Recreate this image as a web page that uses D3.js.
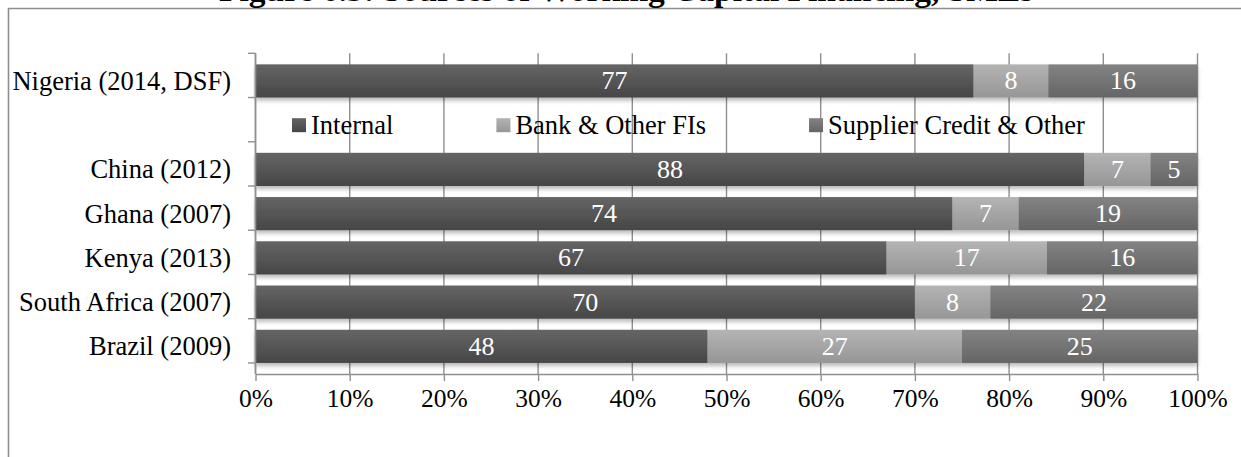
<!DOCTYPE html>
<html>
<head>
<meta charset="utf-8">
<script src="https://cdn.jsdelivr.net/npm/d3@7"></script>
<style>
  html, body { margin: 0; padding: 0; background: #fff; }
  svg { display: block; }
  text { font-family: "Liberation Serif", "Times New Roman", serif; }
</style>
</head>
<body>
<svg id="chart" width="1241" height="457"></svg>
<script>
// Sources of working capital financing (% of SMEs), by country and survey
const categories = ["Nigeria (2014, DSF)", "", "China (2012)", "Ghana (2007)", "Kenya (2013)", "South Africa (2007)", "Brazil (2009)"];
const seriesNames = ["Internal", "Bank & Other FIs", "Supplier Credit & Other"];
const internal = [77, null, 88, 74, 67, 70, 48];
const bankOther = [8, null, 7, 7, 17, 8, 27];
const supplierOther = [16, null, 5, 19, 16, 22, 25];
const tickLabels = ["0%", "10%", "20%", "30%", "40%", "50%", "60%", "70%", "80%", "90%", "100%"];
const title = "Figure 6.3: Sources of Working Capital Financing, SMEs";

const series = [internal, bankOther, supplierOther];
const gradients = [
  { id: "g-internal", top: "#656565", bottom: "#464646" },
  { id: "g-bank", top: "#b4b4b4", bottom: "#969696" },
  { id: "g-supplier", top: "#838383", bottom: "#656565" }
];

const svg = d3.select("#chart");
const defs = svg.append("defs");
gradients.forEach(g => {
  const lg = defs.append("linearGradient").attr("id", g.id)
    .attr("x1", 0).attr("y1", 0).attr("x2", 0).attr("y2", 1);
  lg.append("stop").attr("offset", "0%").attr("stop-color", g.top);
  lg.append("stop").attr("offset", "100%").attr("stop-color", g.bottom);
});
const shadow = defs.append("filter").attr("id", "bar-shadow")
  .attr("x", "-5%").attr("y", "-20%").attr("width", "110%").attr("height", "160%");
shadow.append("feDropShadow").attr("dx", 0).attr("dy", 3).attr("stdDeviation", 2.2)
  .attr("flood-color", "#000").attr("flood-opacity", 0.28);

// Outer frame
svg.append("path")
  .attr("d", "M8.5,457 L8.5,8.5 L1241,8.5")
  .attr("fill", "none").attr("stroke", "#8e8e8e").attr("stroke-width", 1.6);

// Title (runs off the top edge of the frame)
svg.append("text")
  .attr("x", 219).attr("y", 1)
  .attr("font-size", 33.5).attr("font-weight", "bold").attr("fill", "#000")
  .text(title);

const x = d3.scaleLinear().domain([0, 100]).range([255.5, 1197.5]);
const y = d3.scaleBand().domain(categories.map((c, i) => i)).range([53.3, 374]).padding(0.25);
const slotTop = 53.3, slotBottom = 374;

const axisColor = "#8f8f8f";

// Vertical gridlines
svg.append("g").selectAll("line").data(d3.range(0, 101, 10)).join("line")
  .attr("x1", d => x(d)).attr("x2", d => x(d))
  .attr("y1", slotTop).attr("y2", slotBottom)
  .attr("stroke", axisColor).attr("stroke-width", 1.4);

// Stacked bars, each row normalised to 100%
const rows = categories.map((c, i) => {
  const vals = series.map(s => s[i]);
  if (vals[0] == null) return null;
  const total = d3.sum(vals);
  let acc = 0;
  return vals.map((v, k) => {
    const seg = { row: i, k, v, x0: acc / total * 100, x1: (acc + v) / total * 100 };
    acc += v;
    return seg;
  });
}).filter(r => r);

const barLayer = svg.append("g");
rows.forEach(segs => {
  const g = barLayer.append("g").attr("filter", "url(#bar-shadow)");
  g.selectAll("rect").data(segs).join("rect")
    .attr("x", d => x(d.x0)).attr("width", d => x(d.x1) - x(d.x0))
    .attr("y", d => y(d.row)).attr("height", y.bandwidth())
    .attr("fill", d => `url(#${gradients[d.k].id})`);
});

// Value labels
const labelLayer = svg.append("g");
rows.flat().forEach(d => {
  labelLayer.append("text")
    .attr("x", (x(d.x0) + x(d.x1)) / 2)
    .attr("y", y(d.row) + y.bandwidth() / 2 + 8.5)
    .attr("text-anchor", "middle").attr("font-size", 26).attr("fill", "#fff")
    .text(d.v);
});

// Axes
const xAxis = d3.axisBottom(x).tickValues(d3.range(0, 101, 10))
  .tickFormat((d, i) => tickLabels[i]).tickSize(7).tickSizeOuter(0).tickPadding(10);
const xg = svg.append("g").attr("transform", `translate(0,${slotBottom})`).call(xAxis);
xg.select(".domain").attr("stroke", axisColor).attr("stroke-width", 1.6);
xg.selectAll(".tick line").attr("stroke", axisColor).attr("stroke-width", 1.4);
xg.selectAll(".tick text").attr("font-size", 25.5).attr("fill", "#000")
  .attr("dy", "0.71em").attr("y", 15);

// Category axis: ticks at band boundaries, labels at band centres
const yLine = svg.append("g");
yLine.append("line").attr("x1", 255.5).attr("x2", 255.5).attr("y1", slotTop).attr("y2", slotBottom)
  .attr("stroke", axisColor).attr("stroke-width", 1.6);
const step = y.step();
yLine.selectAll("line.tk").data(d3.range(categories.length + 1)).join("line").attr("class", "tk")
  .attr("x1", 248).attr("x2", 255.5)
  .attr("y1", i => slotTop + i * step).attr("y2", i => slotTop + i * step)
  .attr("stroke", axisColor).attr("stroke-width", 1.4);
svg.append("g").selectAll("text").data(categories).join("text")
  .attr("x", 231).attr("y", (d, i) => y(i) + y.bandwidth() / 2 + 9)
  .attr("text-anchor", "end").attr("font-size", 26.5).attr("fill", "#000")
  .text(d => d);

// Legend in the empty row
const legendY = y(1) + y.bandwidth() / 2;
let lx = 292;
const legend = svg.append("g");
seriesNames.forEach((name, k) => {
  legend.append("rect").attr("x", lx).attr("y", legendY - 7).attr("width", 14).attr("height", 14)
    .attr("fill", `url(#${gradients[k].id})`);
  const t = legend.append("text").attr("x", lx + 19).attr("y", legendY + 9)
    .attr("font-size", 26.5).attr("fill", "#000").text(name);
  lx += 19 + t.node().getComputedTextLength() + 103;
});
</script>
</body>
</html>
